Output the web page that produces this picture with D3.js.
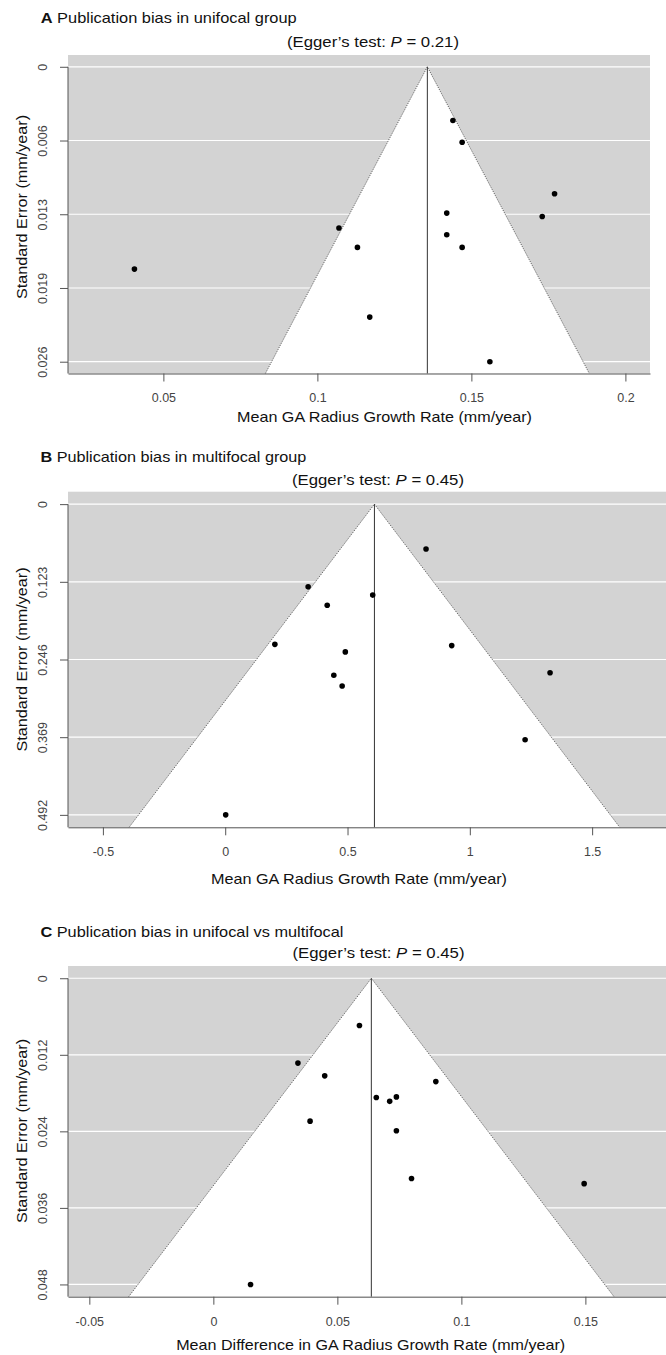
<!DOCTYPE html>
<html>
<head>
<meta charset="utf-8">
<script src="https://cdn.jsdelivr.net/npm/d3@7"></script>
<style>
  body { margin: 0; background: #fff; }
  svg text { font-family: "Liberation Sans", Arial, Helvetica, sans-serif; }
</style>
</head>
<body>
<svg id="fig" width="666" height="1355"></svg>
<script>
// ---- Panel A: unifocal group ----
const effA = [0.144, 0.147, 0.177, 0.142, 0.173, 0.107, 0.142, 0.113, 0.147, 0.0406, 0.117, 0.156];
const seA  = [0.0047, 0.0066, 0.0111, 0.0128, 0.0131, 0.0141, 0.0147, 0.0158, 0.0158, 0.0177, 0.0219, 0.0258];
const pooledA = 0.1357;
const xTicksA = [0.05, 0.1, 0.15, 0.2];
const xLabelsA = ["0.05", "0.1", "0.15", "0.2"];
const seTicksA = [0, 0.00645, 0.0129, 0.01935, 0.0258];
const seLabelsA = ["0", "0.006", "0.013", "0.019", "0.026"];
const eggerA = "0.21";

// ---- Panel B: multifocal group ----
const effB = [0.821, 0.339, 0.603, 0.417, 0.203, 0.926, 0.491, 1.328, 0.444, 0.478, 1.226, 0.002];
const seB  = [0.071, 0.131, 0.144, 0.160, 0.222, 0.224, 0.234, 0.267, 0.271, 0.288, 0.373, 0.492];
const pooledB = 0.61;
const xTicksB = [-0.5, 0, 0.5, 1, 1.5];
const xLabelsB = ["-0.5", "0", "0.5", "1", "1.5"];
const seTicksB = [0, 0.123, 0.246, 0.369, 0.492];
const seLabelsB = ["0", "0.123", "0.246", "0.369", "0.492"];
const eggerB = "0.45";

// ---- Panel C: unifocal vs multifocal (mean difference) ----
const effC = [0.0589, 0.0341, 0.0449, 0.0897, 0.0657, 0.0711, 0.0738, 0.0390, 0.0738, 0.0799, 0.1495, 0.0150];
const seC  = [0.0074, 0.0133, 0.0153, 0.0162, 0.0187, 0.0193, 0.0186, 0.0224, 0.0239, 0.0314, 0.0322, 0.0480];
const pooledC = 0.0637;
const xTicksC = [-0.05, 0, 0.05, 0.1, 0.15];
const xLabelsC = ["-0.05", "0", "0.05", "0.1", "0.15"];
const seTicksC = [0, 0.012, 0.024, 0.036, 0.048];
const seLabelsC = ["0", "0.012", "0.024", "0.036", "0.048"];
const eggerC = "0.45";

const svg = d3.select("#fig");
const AXIS_COL = "#555";
const LABEL_COL = "#444";

function drawPanel(p) {
  const x = d3.scaleLinear().domain(p.xDomain).range([p.left, p.right]);
  const seMax = p.seTicks[p.seTicks.length - 1];
  const pad = seMax * 0.04;
  const y = d3.scaleLinear().domain([-pad, seMax + pad]).range([p.top, p.bottom]);
  const g = svg.append("g");

  // grey background of the plotting region
  g.append("rect")
    .attr("x", p.left).attr("y", p.top)
    .attr("width", p.right - p.left).attr("height", p.bottom - p.top)
    .attr("fill", "#d3d3d3");

  // white reference lines at the standard-error ticks
  g.selectAll("line.grid").data(p.seTicks).join("line")
    .attr("class", "grid")
    .attr("x1", p.left).attr("x2", p.right)
    .attr("y1", d => y(d)).attr("y2", d => y(d))
    .attr("stroke", "#fff").attr("stroke-width", 1.2);

  // pseudo 95% confidence funnel
  const seBottom = seMax + pad;
  const z = 1.96;
  const funnel = [[p.pooled - z * seBottom, seBottom], [p.pooled, 0], [p.pooled + z * seBottom, seBottom]];
  const line = d3.line().x(d => x(d[0])).y(d => y(d[1]));
  g.append("path").attr("d", line(funnel) + "Z").attr("fill", "#fff");
  g.append("path").attr("d", line(funnel))
    .attr("fill", "none").attr("stroke", "#555").attr("stroke-width", 0.9)
    .attr("stroke-dasharray", "1.2,1.2");

  // pooled estimate
  g.append("line")
    .attr("x1", x(p.pooled)).attr("x2", x(p.pooled))
    .attr("y1", y(0)).attr("y2", p.bottom)
    .attr("stroke", "#333").attr("stroke-width", 1);

  // studies
  g.selectAll("circle.study").data(p.eff.map((e, i) => [e, p.se[i]])).join("circle")
    .attr("class", "study")
    .attr("cx", d => x(d[0])).attr("cy", d => y(d[1]))
    .attr("r", 2.8).attr("fill", "#000");

  // x axis
  const xa = g.append("g").attr("transform", `translate(0,${p.bottom})`)
    .call(d3.axisBottom(x).tickValues(p.xTicks).tickSize(8).tickSizeOuter(0).tickPadding(12)
      .tickFormat((d, i) => p.xLabels[i]));
  xa.select(".domain").attr("stroke", AXIS_COL);
  xa.selectAll(".tick line").attr("stroke", AXIS_COL);
  xa.selectAll(".tick text").attr("fill", LABEL_COL).attr("font-size", 12.5)
    .attr("font-family", "Liberation Sans, Arial, sans-serif");

  // y axis
  const ya = g.append("g").attr("transform", `translate(${p.left},0)`)
    .call(d3.axisLeft(y).tickValues(p.seTicks).tickSize(8).tickFormat((d, i) => p.seLabels[i]));
  ya.select(".domain").remove();
  ya.selectAll(".tick line").attr("stroke", AXIS_COL);
  ya.selectAll(".tick text")
    .attr("transform", "rotate(-90)").attr("x", 0).attr("y", -21).attr("dy", 0)
    .attr("text-anchor", "middle").attr("fill", LABEL_COL).attr("font-size", 12.5)
    .attr("font-family", "Liberation Sans, Arial, sans-serif");
  g.append("line")
    .attr("x1", p.left).attr("x2", p.left).attr("y1", y(0)).attr("y2", p.bottom)
    .attr("stroke", AXIS_COL).attr("stroke-width", 1);

  // panel title
  const t = g.append("text").attr("x", p.titleX).attr("y", p.titleY)
    .attr("font-size", 15).attr("fill", "#111")
    .attr("textLength", p.titleW).attr("lengthAdjust", "spacingAndGlyphs");
  t.append("tspan").attr("font-weight", "bold").text(p.letter);
  t.append("tspan").text(" " + p.title);

  // Egger's test annotation
  const e = g.append("text").attr("x", p.eggerX).attr("y", p.eggerY)
    .attr("text-anchor", "middle").attr("font-size", 15).attr("fill", "#111")
    .attr("textLength", 172).attr("lengthAdjust", "spacingAndGlyphs");
  e.append("tspan").text("(Egger\u2019s test: ");
  e.append("tspan").attr("font-style", "italic").text("P");
  e.append("tspan").text(" = " + p.egger + ")");

  // axis titles
  g.append("text").attr("x", p.xTitleX).attr("y", p.xTitleY)
    .attr("text-anchor", "middle").attr("font-size", 15).attr("fill", "#111")
    .attr("textLength", p.xTitleW).attr("lengthAdjust", "spacingAndGlyphs")
    .text(p.xTitle);
  g.append("text").attr("transform", `translate(27,${p.yTitleY}) rotate(-90)`)
    .attr("text-anchor", "middle").attr("font-size", 15).attr("fill", "#111")
    .attr("textLength", 184).attr("lengthAdjust", "spacingAndGlyphs")
    .text("Standard Error (mm/year)");
}

drawPanel({
  letter: "A", title: "Publication bias in unifocal group", titleX: 40.7, titleY: 22.5, titleW: 256,
  eggerX: 373, eggerY: 47, egger: eggerA,
  eff: effA, se: seA, pooled: pooledA,
  xTicks: xTicksA, xLabels: xLabelsA, seTicks: seTicksA, seLabels: seLabelsA,
  xDomain: [0.01903, 0.20799], left: 68, right: 650, top: 55, bottom: 373.5,
  xTitle: "Mean GA Radius Growth Rate (mm/year)", xTitleX: 384.5, xTitleY: 421.5, xTitleW: 295,
  yTitleY: 207
});

drawPanel({
  letter: "B", title: "Publication bias in multifocal group", titleX: 40.4, titleY: 462.3, titleW: 266,
  eggerX: 378, eggerY: 485, egger: eggerB,
  eff: effB, se: seB, pooled: pooledB,
  xTicks: xTicksB, xLabels: xLabelsB, seTicks: seTicksB, seLabels: seLabelsB,
  xDomain: [-0.6427, 1.802], left: 68, right: 666, top: 491.7, bottom: 827.3,
  xTitle: "Mean GA Radius Growth Rate (mm/year)", xTitleX: 359, xTitleY: 883.5, xTitleW: 296,
  yTitleY: 659.5
});

drawPanel({
  letter: "C", title: "Publication bias in unifocal vs multifocal", titleX: 40.4, titleY: 936.7, titleW: 303,
  eggerX: 378.5, eggerY: 958, egger: eggerC,
  eff: effC, se: seC, pooled: pooledC,
  xTicks: xTicksC, xLabels: xLabelsC, seTicks: seTicksC, seLabels: seLabelsC,
  xDomain: [-0.0586, 0.1825], left: 68, right: 666, top: 966, bottom: 1296.7,
  xTitle: "Mean Difference in GA Radius Growth Rate (mm/year)", xTitleX: 370.7, xTitleY: 1350, xTitleW: 389,
  yTitleY: 1131
});
</script>
</body>
</html>
